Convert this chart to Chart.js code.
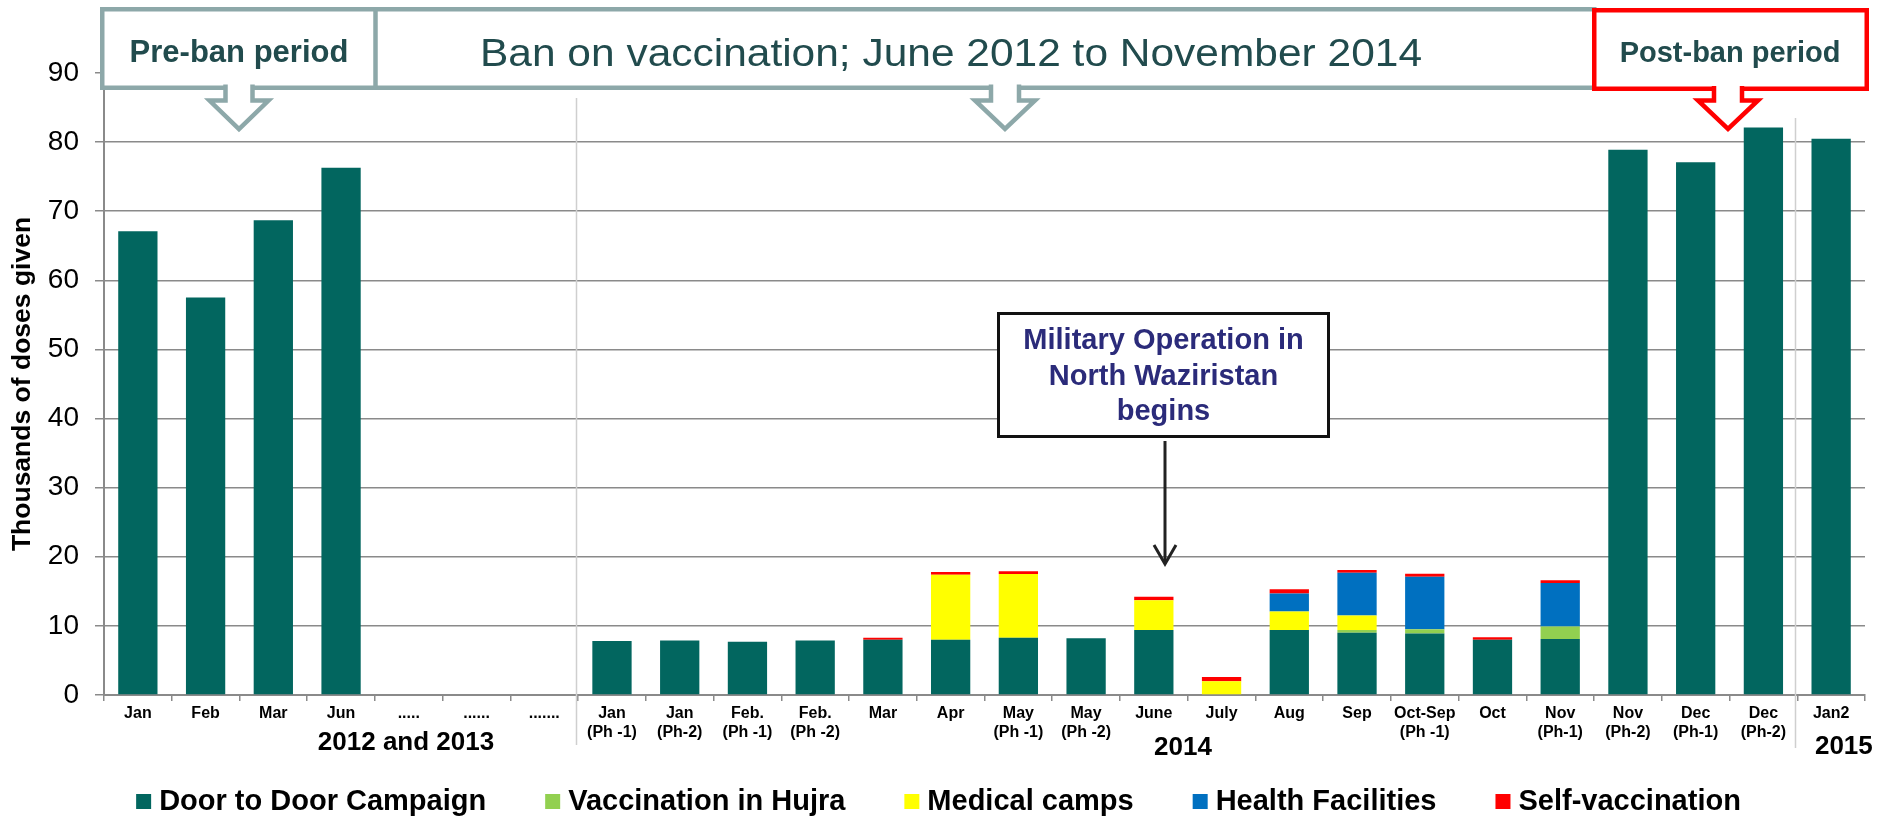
<!DOCTYPE html>
<html>
<head>
<meta charset="utf-8">
<script src="https://cdn.jsdelivr.net/npm/chart.js@4.4.0/dist/chart.umd.min.js"></script>
<style>
  html, body { margin: 0; padding: 0; background: #ffffff; }
  #wrap { width: 1877px; height: 816px; position: relative; }
</style>
</head>
<body>
<div id="wrap"><canvas id="c" width="1877" height="816"></canvas></div>
<script>
// ---------------- DATA ----------------
const categories = [
  ["Jan"], ["Feb"], ["Mar"], ["Jun"], ["....."], ["......"], ["......."],
  ["Jan", "(Ph -1)"], ["Jan", "(Ph-2)"], ["Feb.", "(Ph -1)"], ["Feb.", "(Ph -2)"],
  ["Mar"], ["Apr"], ["May", "(Ph -1)"], ["May", "(Ph -2)"], ["June"], ["July"],
  ["Aug"], ["Sep"], ["Oct-Sep", "(Ph -1)"], ["Oct"], ["Nov", "(Ph-1)"],
  ["Nov", "(Ph-2)"], ["Dec", "(Ph-1)"], ["Dec", "(Ph-2)"], ["Jan2"]
];
const doorToDoor = [67.1, 57.5, 68.7, 76.3, null, null, null,
  7.8, 7.9, 7.7, 7.9, 8.0, 8.0, 8.3, 8.2, 9.4, 0, 9.4, 9.0, 8.9, 8.0, 8.1,
  78.9, 77.1, 82.1, 80.5];
const hujra = [null, null, null, null, null, null, null,
  0, 0, 0, 0, 0, 0, 0, 0, 0, 0, 0, 0.4, 0.6, 0, 1.8, 0, 0, 0, 0];
const medicalCamps = [null, null, null, null, null, null, null,
  0, 0, 0, 0, 0, 9.4, 9.2, 0, 4.3, 2.0, 2.7, 2.1, 0, 0, 0, 0, 0, 0, 0];
const healthFacilities = [null, null, null, null, null, null, null,
  0, 0, 0, 0, 0, 0, 0, 0, 0, 0, 2.6, 6.2, 7.6, 0, 6.3, 0, 0, 0, 0];
const selfVaccination = [null, null, null, null, null, null, null,
  0, 0, 0, 0, 0.3, 0.4, 0.4, 0, 0.5, 0.6, 0.6, 0.4, 0.45, 0.35, 0.4, 0, 0, 0, 0];

const seriesNames = ["Door to Door Campaign", "Vaccination in Hujra", "Medical camps", "Health Facilities", "Self-vaccination"];
const seriesColors = ["#02665F", "#92D050", "#FFFF00", "#0070C0", "#FF0000"];
const periodLabels = ["2012 and 2013", "2014", "2015"];
const yAxisTitle = "Thousands of doses given";
const boxTexts = ["Pre-ban period", "Ban on vaccination; June 2012 to November 2014", "Post-ban period"];
const calloutLines = ["Military Operation in", "North Waziristan", "begins"];

// ---------------- STYLE ----------------
const FONT = "'Liberation Sans', Arial, Helvetica, sans-serif";
const GRID = "#8a8a8a";

const seriesValues = [doorToDoor, hujra, medicalCamps, healthFacilities, selfVaccination];
const datasets = seriesValues.map((vals, i) => ({
  label: seriesNames[i],
  data: vals,
  backgroundColor: seriesColors[i],
  borderWidth: 0,
  stack: "s",
  barPercentage: 0.58,
  categoryPercentage: 1.0
}));

function stretchedText(ctx, text, x, y, targetW) {
  const w = ctx.measureText(text).width;
  ctx.save();
  ctx.translate(x, y);
  ctx.scale(targetW / w, 1);
  ctx.textAlign = "left";
  ctx.fillText(text, 0, 0);
  ctx.restore();
}

function hollowArrow(ctx, cx, top, shaftW, headW, headTop, tip, color) {
  const path = () => {
    ctx.beginPath();
    ctx.moveTo(cx - shaftW / 2, top);
    ctx.lineTo(cx - shaftW / 2, headTop);
    ctx.lineTo(cx - headW / 2, headTop);
    ctx.lineTo(cx, tip);
    ctx.lineTo(cx + headW / 2, headTop);
    ctx.lineTo(cx + shaftW / 2, headTop);
    ctx.lineTo(cx + shaftW / 2, top);
  };
  ctx.save();
  path(); ctx.closePath();
  ctx.fillStyle = "#ffffff";
  ctx.fill();
  path();
  ctx.strokeStyle = color;
  ctx.lineWidth = 4.5;
  ctx.lineJoin = "miter";
  ctx.stroke();
  ctx.restore();
}

const decorPlugin = {
  id: "decor",
  afterDraw(chart) {
    const ctx = chart.ctx;
    const xs = chart.scales.x;
    const W = xs.right - xs.left;

    // period separators
    ctx.save();
    ctx.strokeStyle = "#cfcfcf";
    ctx.lineWidth = 1.5;
    [[6.5, 98, 745], [24.5, 118, 748]].forEach(([v, t, b]) => {
      const px = Math.round(xs.getPixelForValue(v)) - 1.5;
      ctx.beginPath(); ctx.moveTo(px, t); ctx.lineTo(px, b); ctx.stroke();
    });
    ctx.restore();

    // period labels
    ctx.save();
    ctx.fillStyle = "#000";
    ctx.font = "bold 26px " + FONT;
    ctx.textAlign = "center";
    ctx.textBaseline = "alphabetic";
    [[0, 0.1715, 750], [1, 0.6127, 755], [2, 0.988, 754]].forEach(([i, f, y]) => {
      ctx.fillText(periodLabels[i], xs.left + f * W, y);
    });
    ctx.restore();

    // callout box + arrow
    ctx.save();
    ctx.fillStyle = "#ffffff";
    ctx.fillRect(997, 312, 333, 126);
    ctx.strokeStyle = "#111";
    ctx.lineWidth = 3;
    ctx.strokeRect(998.5, 313.5, 330, 123);
    ctx.fillStyle = "#2B2B7A";
    ctx.font = "bold 29px " + FONT;
    ctx.textAlign = "center";
    ctx.textBaseline = "alphabetic";
    [349, 385, 420].forEach((y, i) => ctx.fillText(calloutLines[i], 1163.5, y));
    ctx.strokeStyle = "#222";
    ctx.lineWidth = 3;
    ctx.beginPath(); ctx.moveTo(1165, 441); ctx.lineTo(1165, 563); ctx.stroke();
    ctx.beginPath(); ctx.moveTo(1154, 545); ctx.lineTo(1165, 564); ctx.lineTo(1176, 545); ctx.stroke();
    ctx.restore();

    // top period boxes
    ctx.save();
    const gray = "#8DA8A9";
    ctx.fillStyle = "#ffffff";
    ctx.fillRect(100, 7, 1494, 83);
    ctx.strokeStyle = gray;
    ctx.lineWidth = 4.5;
    ctx.strokeRect(102.25, 9.25, 1492, 78.5);
    ctx.beginPath(); ctx.moveTo(375.5, 9); ctx.lineTo(375.5, 88); ctx.stroke();
    hollowArrow(ctx, 239, 84.5, 27, 59, 100.5, 129, gray);
    hollowArrow(ctx, 1005, 84.5, 28, 60, 100.5, 129, gray);
    // red box
    ctx.fillStyle = "#ffffff";
    ctx.fillRect(1592, 8, 277, 83);
    ctx.strokeStyle = "#FF0000";
    ctx.lineWidth = 4.5;
    ctx.strokeRect(1594.25, 10.25, 272.5, 78.5);
    hollowArrow(ctx, 1728, 86, 28, 60, 100.5, 129, "#FF0000");
    ctx.fillStyle = "#214B4D";
    ctx.textBaseline = "alphabetic";
    ctx.textAlign = "center";
    ctx.font = "bold 31px " + FONT;
    ctx.fillText(boxTexts[0], 239, 62);
    ctx.font = "bold 29px " + FONT;
    ctx.fillText(boxTexts[2], 1730, 62);
    ctx.font = "38px " + FONT;
    stretchedText(ctx, boxTexts[1], 480, 66, 942);
    ctx.restore();

    // legend
    ctx.save();
    ctx.font = "bold 29px " + FONT;
    ctx.textBaseline = "alphabetic";
    ctx.textAlign = "left";
    const sq = 15, gapTxt = 8, gapItem = 59;
    const widths = seriesNames.map(n => ctx.measureText(n).width);
    const total = widths.reduce((a, b) => a + b, 0) + seriesNames.length * (sq + gapTxt) + (seriesNames.length - 1) * gapItem;
    let x = 938.5 - total / 2;
    seriesNames.forEach((n, i) => {
      ctx.fillStyle = seriesColors[i];
      ctx.fillRect(x, 794, sq, sq);
      ctx.fillStyle = "#000";
      ctx.fillText(n, x + sq + gapTxt, 810);
      x += sq + gapTxt + widths[i] + gapItem;
    });
    ctx.restore();
  }
};

new Chart(document.getElementById("c"), {
  type: "bar",
  data: { labels: categories, datasets: datasets },
  options: {
    responsive: false,
    animation: false,
    devicePixelRatio: 1,
    layout: { padding: { top: 73, right: 12, bottom: 0, left: 0 } },
    plugins: { legend: { display: false }, tooltip: { enabled: false } },
    scales: {
      x: {
        stacked: true,
        grid: { display: true, drawOnChartArea: false, drawTicks: true, tickLength: 6, color: GRID, lineWidth: 1.5, offset: true },
        border: { display: true, color: GRID, width: 2 },
        ticks: {
          color: "#000",
          font: { family: FONT, size: 16, weight: "bold", lineHeight: 1.2 },
          padding: 3,
          maxRotation: 0,
          minRotation: 0,
          autoSkip: false
        },
        afterFit(s) { s.height = 121; }
      },
      y: {
        stacked: true,
        min: 0,
        max: 90,
        ticks: {
          stepSize: 10,
          color: "#000",
          font: { family: FONT, size: 28 },
          padding: 16
        },
        grid: { color: GRID, lineWidth: 1.5, tickLength: 9, drawTicks: true },
        border: { display: true, color: GRID, width: 2 },
        title: {
          display: true,
          text: yAxisTitle,
          color: "#000",
          font: { family: FONT, size: 26.5, weight: "bold", lineHeight: 1.2 },
          padding: { top: 7, bottom: 0 }
        },
        afterFit(s) { s.width = 104; }
      }
    }
  },
  plugins: [decorPlugin]
});
</script>
</body>
</html>
